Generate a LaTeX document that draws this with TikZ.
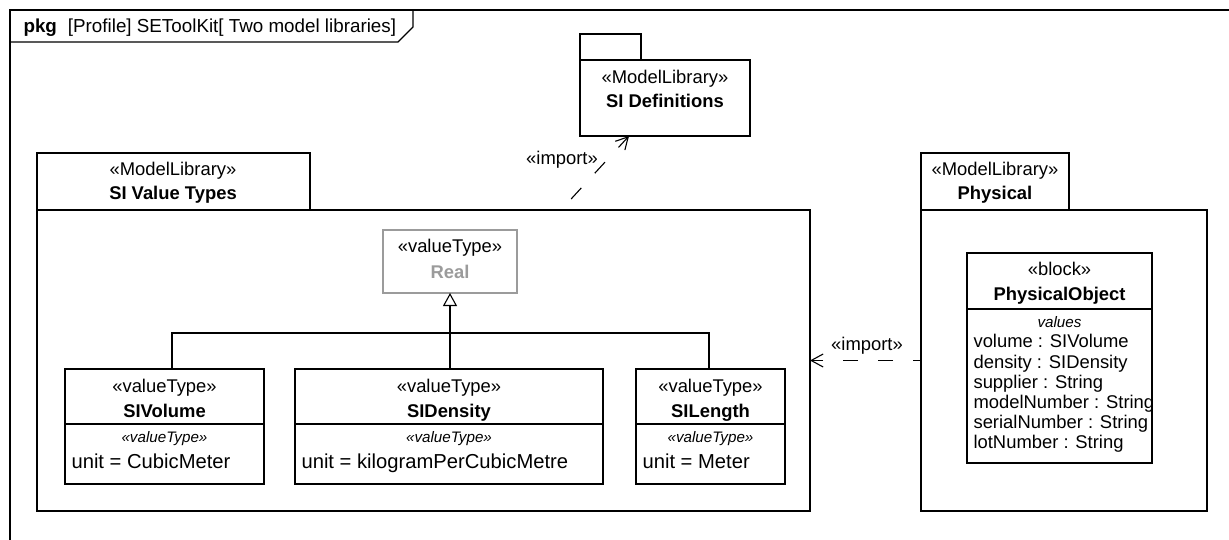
\documentclass[tikz,border=0pt]{standalone}
\usepackage{fontspec}
\setmainfont{Liberation Sans}
\usetikzlibrary{arrows.meta}
\definecolor{realgray}{RGB}{155,155,155}
\begin{document}
\begin{tikzpicture}[x=1pt,y=-1pt,line width=1.1pt,
  umlbox/.style={draw,line width=1.1pt,inner sep=0pt,outer sep=0pt,anchor=north west},
  stereo/.style={inner sep=0pt,anchor=base,font=\fontsize{18.4}{21}\selectfont},
  nametxt/.style={inner sep=0pt,anchor=base,font=\fontsize{18.4}{21}\selectfont\bfseries},
  vattr/.style={inner sep=0pt,anchor=base west,font=\fontsize{20.2}{23}\selectfont},
  battr/.style={inner sep=0pt,anchor=base west,font=\fontsize{18.4}{21}\selectfont},
  smallit/.style={inner sep=0pt,anchor=base,font=\fontsize{15.2}{17}\selectfont\itshape},
  deplabel/.style={inner sep=0pt,anchor=base,font=\fontsize{18.4}{21}\selectfont},
  dep/.style={line width=1.1pt,-{Straight Barb[length=12pt,width=13pt,line width=1.1pt]}},
  gen/.style={line width=1.1pt,-{Triangle[open,length=13pt,width=14pt,line width=1.1pt]}}]
\useasboundingbox (0,0) rectangle (1229,540);
% frame
\draw (1229,10) -- (10,10) -- (10,540);
\draw (10,42) -- (398,42) -- (413,27) -- (413,10);
\node[inner sep=0pt,anchor=base west,font=\fontsize{18.8}{21}\selectfont] (title) at (23,33)
  {\textbf{pkg}\hspace{11pt}[Profile] SEToolKit[ Two model libraries]};
% SI Definitions
\node[umlbox,minimum width=61pt,minimum height=26pt] (sideftab) at (580,34) {};
\node[umlbox,minimum width=170pt,minimum height=76pt] (sidefb) at (580,60) {};
\node[stereo] (sidefst) at (665,84) {«ModelLibrary»};
\node[nametxt] (sidefnm) at (665,108) {SI Definitions};
% SI Value Types
\node[umlbox,minimum width=273pt,minimum height=57pt] (sivttab) at (37,153) {};
\node[umlbox,minimum width=773pt,minimum height=301pt] (sivtb) at (37,210) {};
\node[stereo] (sivtst) at (173,176) {«ModelLibrary»};
\node[nametxt] (sivtnm) at (173,200) {SI Value Types};
% Physical
\node[umlbox,minimum width=148pt,minimum height=57pt] (phystab) at (921,153) {};
\node[umlbox,minimum width=286pt,minimum height=301pt] (physb) at (921,210) {};
\node[stereo] (physst) at (995,176) {«ModelLibrary»};
\node[nametxt] (physnm) at (995,200) {Physical};
% Real
\node[umlbox,draw=realgray,minimum width=134pt,minimum height=63pt] (real) at (383,230) {};
\node[stereo] (realst) at (450,253) {«valueType»};
\node[nametxt,text=realgray] (realnm) at (450,278) {Real};
% SIVolume
\node[umlbox,minimum width=199pt,minimum height=115pt] (sivol) at (65,369) {};
\draw ([yshift=-55pt]sivol.north west) -- ([yshift=-55pt]sivol.north east);
\node[stereo] (sivolst) at (164.5,392) {«valueType»};
\node[nametxt] (sivolnm) at (164.5,417) {SIVolume};
\node[smallit] (sivolvt) at (164.5,442) {«valueType»};
\node[vattr] (sivolat) at (71,468) {unit = CubicMeter};
% SIDensity
\node[umlbox,minimum width=308pt,minimum height=115pt] (sidens) at (295,369) {};
\draw ([yshift=-55pt]sidens.north west) -- ([yshift=-55pt]sidens.north east);
\node[stereo] (sidensst) at (449,392) {«valueType»};
\node[nametxt] (sidensnm) at (449,417) {SIDensity};
\node[smallit] (sidensvt) at (449,442) {«valueType»};
\node[vattr] (sidensat) at (301,468) {unit = kilogramPerCubicMetre};
% SILength
\node[umlbox,minimum width=149pt,minimum height=115pt] (silen) at (636,369) {};
\draw ([yshift=-55pt]silen.north west) -- ([yshift=-55pt]silen.north east);
\node[stereo] (silenst) at (710.5,392) {«valueType»};
\node[nametxt] (silennm) at (710.5,417) {SILength};
\node[smallit] (silenvt) at (710.5,442) {«valueType»};
\node[vattr] (silenat) at (642,468) {unit = Meter};
% PhysicalObject
\node[umlbox,minimum width=185pt,minimum height=210pt] (pobj) at (967,253) {};
\draw ([yshift=-56pt]pobj.north west) -- ([yshift=-56pt]pobj.north east);
\node[stereo] (pobjst) at (1059.5,276) {«block»};
\node[nametxt] (pobjnm) at (1059.5,300) {PhysicalObject};
\node[smallit] (pobjval) at (1059.5,327) {values};
\node[battr] (pa1) at (973,347) {volume : SIVolume};
\node[battr] (pa2) at (973,368) {density : SIDensity};
\node[battr] (pa3) at (973,388) {supplier : String};
\node[battr] (pa4) at (973,408) {modelNumber : String};
\node[battr] (pa5) at (973,428) {serialNumber : String};
\node[battr] (pa6) at (973,448) {lotNumber : String};
% generalization
\coordinate (jl) at (172,333);
\coordinate (jr) at (709,333);
\draw (jl |- sivol.north) -- (jl) -- (jr) -- (jr |- silen.north);
\draw[gen] (real.south |- sidens.north) -- (real.south);
% imports
\draw[dep,dash pattern=on 15pt off 20pt,dash phase=20pt] ([xshift=137.5pt]sivtb.north) -- ([xshift=-36pt]sidefb.south);
\node[deplabel] (imp1) at (562,165) {«import»};
\draw[dep,dash pattern=on 15pt off 20pt,dash phase=7pt] (physb.west) -- (physb.west -| sivtb.east);
\node[deplabel] (imp2) at (867,350) {«import»};
\end{tikzpicture}
\end{document}
